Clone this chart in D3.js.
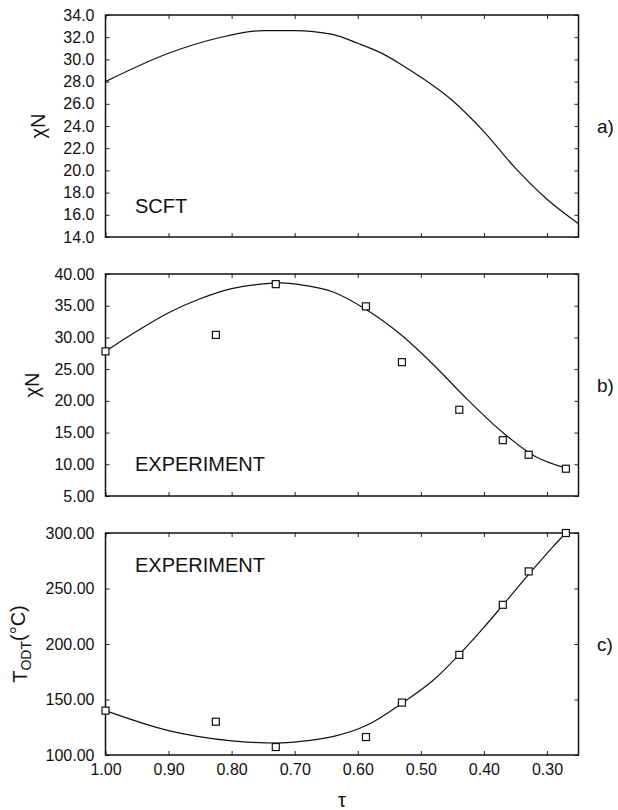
<!DOCTYPE html>
<html>
<head>
<meta charset="utf-8">
<script src="https://cdn.jsdelivr.net/npm/d3@7"></script>
<style>
  body { margin: 0; background: #fff; }
  svg { font-family: "Liberation Sans", Arial, sans-serif; }
</style>
</head>
<body>
<div id="chart"></div>
<script>
// SCFT curve (panel a)
const scftTau  = [1.00, 0.90, 0.82, 0.75, 0.70, 0.64, 0.60, 0.56, 0.53, 0.50, 0.45, 0.40, 0.35, 0.30, 0.25];
const scftChiN = [28.0, 30.55, 31.95, 32.6, 32.6, 32.25, 31.45, 30.5, 29.5, 28.4, 26.3, 23.5, 20.2, 17.4, 15.2];

// experimental points (panels b and c)
const expTau  = [1.00, 0.825, 0.73, 0.587, 0.53, 0.439, 0.37, 0.329, 0.27];
const expChiN = [27.8, 30.4, 38.4, 34.9, 26.1, 18.6, 13.8, 11.5, 9.3];
const expTodt = [140, 130, 107.2, 116.2, 147.2, 190.2, 235.3, 265.4, 300];

// fitted curves
const fitChiTau = [1.00, 0.95, 0.90, 0.85, 0.80, 0.75, 0.72, 0.69, 0.64, 0.59, 0.53, 0.48, 0.43, 0.37, 0.32, 0.27];
const fitChiN   = [27.8, 31.0, 33.9, 36.1, 37.7, 38.45, 38.6, 38.3, 37.2, 34.6, 30.3, 25.7, 20.6, 15.0, 11.3, 9.4];
const fitTTau   = [1.00, 0.90, 0.80, 0.73, 0.69, 0.64, 0.585, 0.53, 0.48, 0.44, 0.40, 0.37, 0.33, 0.29, 0.27];
const fitTodt   = [140, 122, 112.8, 110.8, 112.2, 116.5, 127, 146.6, 167.5, 190, 215, 235, 262, 288, 300];

const tauTicks = [1.0, 0.9, 0.8, 0.7, 0.6, 0.5, 0.4, 0.3];

const width = 618, height = 810;
const left = 105.5, right = 578.5;

const svg = d3.select("#chart").append("svg")
    .attr("width", width)
    .attr("height", height);

const x = d3.scaleLinear().domain([1.0, 0.25]).range([left, right]);

// panels: vertical placement and y domains
const panels = [
    {top: 15,  bottom: 237, domain: [14, 34],   ticks: d3.range(14, 34.01, 2),  fmt: ".1f", letter: "a)", note: "SCFT",       noteY: 213, labelX: 38},
    {top: 274, bottom: 496, domain: [5, 40],    ticks: d3.range(5, 40.01, 5),   fmt: ".2f", letter: "b)", note: "EXPERIMENT", noteY: 471, labelX: 32},
    {top: 533, bottom: 755, domain: [100, 300], ticks: d3.range(100, 300.1, 50), fmt: ".2f", letter: "c)", note: "EXPERIMENT", noteY: 572, labelX: 20}
];

panels.forEach((p, i) => {
    p.y = d3.scaleLinear().domain(p.domain).range([p.bottom, p.top]);
    const g = svg.append("g").attr("class", "panel");

    // left axis with labels, ticks inside
    g.append("g")
        .attr("transform", `translate(${left},0)`)
        .call(d3.axisLeft(p.y).tickValues(p.ticks).tickSizeInner(-4).tickSizeOuter(0).tickPadding(11).tickFormat(d3.format(p.fmt)))
        .call(a => a.select(".domain").remove())
        .call(a => a.selectAll("text").attr("font-size", 16).attr("fill", "#111").attr("font-family", null));

    // right axis, ticks only
    g.append("g")
        .attr("transform", `translate(${right},0)`)
        .call(d3.axisRight(p.y).tickValues(p.ticks).tickSizeInner(-4).tickSizeOuter(0).tickFormat(""))
        .call(a => a.select(".domain").remove());

    // top axis, ticks only
    g.append("g")
        .attr("transform", `translate(0,${p.top})`)
        .call(d3.axisTop(x).tickValues(tauTicks).tickSizeInner(-4).tickSizeOuter(0).tickFormat(""))
        .call(a => a.select(".domain").remove());

    // bottom axis, labels only on last panel
    g.append("g")
        .attr("transform", `translate(0,${p.bottom})`)
        .call(d3.axisBottom(x).tickValues(tauTicks).tickSizeInner(-4).tickSizeOuter(0).tickPadding(9)
            .tickFormat(i === 2 ? d3.format(".2f") : ""))
        .call(a => a.select(".domain").remove())
        .call(a => a.selectAll("text").attr("font-size", 16).attr("fill", "#111").attr("font-family", null));

    g.selectAll(".tick line").attr("stroke", "#222");

    // frame
    g.append("rect")
        .attr("x", left)
        .attr("y", p.top)
        .attr("width", right - left)
        .attr("height", p.bottom - p.top)
        .attr("fill", "none")
        .attr("stroke", "#111")
        .attr("stroke-width", 1.5);

    // inset text
    g.append("text")
        .attr("x", 135)
        .attr("y", p.noteY)
        .attr("font-size", 20)
        .attr("fill", "#111")
        .text(p.note);

    // panel letter
    g.append("text")
        .attr("x", 597)
        .attr("y", (p.top + p.bottom) / 2)
        .attr("dy", "0.35em")
        .attr("font-size", 19)
        .attr("fill", "#111")
        .text(p.letter);
});

// y labels
[0, 1].forEach(i => {
    const p = panels[i];
    svg.append("text")
        .attr("transform", `translate(${p.labelX},${(p.top + p.bottom) / 2}) rotate(-90)`)
        .attr("text-anchor", "middle")
        .attr("dy", "0.35em")
        .attr("font-size", 20)
        .attr("fill", "#111")
        .text("χN");
});

const pc = panels[2];
const tLabel = svg.append("text")
    .attr("transform", `translate(${pc.labelX},${(pc.top + pc.bottom) / 2}) rotate(-90)`)
    .attr("text-anchor", "middle")
    .attr("dy", "0.35em")
    .attr("font-size", 20)
    .attr("fill", "#111");
tLabel.append("tspan").text("T");
tLabel.append("tspan").attr("font-size", 14).attr("dy", "0.3em").text("ODT");
tLabel.append("tspan").attr("dy", "-0.3em").text("(°C)");

// x label
svg.append("text")
    .attr("x", (left + right) / 2)
    .attr("y", 807)
    .attr("text-anchor", "middle")
    .attr("font-size", 20)
    .attr("fill", "#111")
    .text("τ");

// curves
function drawCurve(taus, vals, yScale, curve) {
    const line = d3.line()
        .curve(curve)
        .x(d => x(d[0]))
        .y(d => yScale(d[1]));
    svg.append("path")
        .datum(d3.zip(taus, vals))
        .attr("d", line)
        .attr("fill", "none")
        .attr("stroke", "#111")
        .attr("stroke-width", 1.2);
}
drawCurve(scftTau, scftChiN, panels[0].y, d3.curveMonotoneX);
drawCurve(fitChiTau, fitChiN, panels[1].y, d3.curveMonotoneX);
drawCurve(fitTTau, fitTodt, panels[2].y, d3.curveMonotoneX);

// square markers
const sq = 7;
function drawSquares(vals, yScale) {
    svg.append("g").selectAll("rect")
        .data(d3.zip(expTau, vals))
        .join("rect")
        .attr("x", d => x(d[0]) - sq / 2)
        .attr("y", d => yScale(d[1]) - sq / 2)
        .attr("width", sq)
        .attr("height", sq)
        .attr("fill", "#fff")
        .attr("stroke", "#111")
        .attr("stroke-width", 1.2);
}
drawSquares(expChiN, panels[1].y);
drawSquares(expTodt, panels[2].y);
</script>
</body>
</html>
